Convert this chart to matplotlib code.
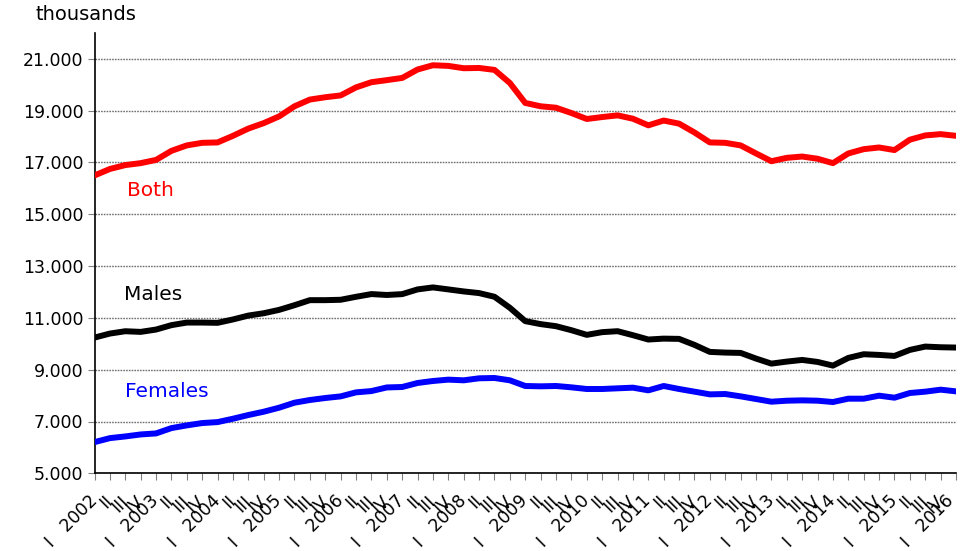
import matplotlib
matplotlib.use("Agg")
import matplotlib.pyplot as plt
from matplotlib.ticker import FuncFormatter
from matplotlib.transforms import ScaledTranslation

plt.rcParams['font.family'] = ['DejaVu Sans']

# quarterly data 2002 Q1 - 2016 Q1 (thousands)
years = list(range(2002, 2017))
quarters = ["I", "II", "III", "IV"]

both = [16500, 16750, 16900, 16975, 17100, 17450, 17660, 17760, 17775, 18030,
        18310, 18520, 18780, 19170, 19430, 19520, 19590, 19900, 20100, 20180,
        20265, 20590, 20755, 20730, 20640, 20650, 20575, 20070, 19300, 19170,
        19115, 18910, 18680, 18755, 18820, 18690, 18435, 18620, 18500, 18160,
        17775, 17760, 17660, 17350, 17050, 17180, 17230, 17145, 16975, 17350,
        17515, 17580, 17480, 17880, 18045, 18095, 18030]
males = [10240, 10395, 10485, 10460, 10550, 10720, 10820, 10820, 10810, 10940,
         11090, 11180, 11310, 11490, 11685, 11685, 11700, 11815, 11920, 11885,
         11918, 12100, 12177, 12100, 12022, 11958, 11816, 11390, 10875, 10760,
         10680, 10525, 10345, 10450, 10487, 10332, 10165, 10200, 10190, 9958,
         9687, 9661, 9648, 9430, 9235, 9313, 9377, 9300, 9158, 9455,
         9597, 9571, 9532, 9764, 9893, 9867, 9855]
females = [6203, 6358, 6423, 6500, 6540, 6745, 6850, 6940, 6977, 7107,
           7250, 7378, 7533, 7726, 7830, 7907, 7970, 8125, 8175, 8315,
           8332, 8487, 8564, 8616, 8590, 8668, 8680, 8590, 8371, 8358,
           8371, 8319, 8255, 8255, 8281, 8306, 8203, 8371, 8255, 8152,
           8048, 8061, 7971, 7868, 7765, 7803, 7816, 7803, 7752, 7881,
           7881, 7997, 7919, 8100, 8152, 8229, 8164]

labels = []
for y in years:
    for q in quarters:
        if q == "I":
            labels.append("I   " + str(y))
        else:
            labels.append(q)
labels = labels[:len(both)]

fig = plt.figure(figsize=(9.6, 5.51), dpi=100)
ax = fig.add_axes([94.5 / 960, 1 - 473.3 / 551, (956 - 94.5) / 960, (473.3 - 33) / 551])

x = list(range(len(both)))
ax.plot(x, both, color="#FF0000", lw=4.3, solid_joinstyle="round", zorder=3)
ax.plot(x, males, color="black", lw=4.3, solid_joinstyle="round", zorder=3)
ax.plot(x, females, color="#0000FF", lw=4.3, solid_joinstyle="round", zorder=3)

ax.set_xlim(0, len(both) - 1)
ax.set_ylim(5000, 22000)
ax.set_yticks(range(5000, 21001, 2000))
ax.yaxis.set_major_formatter(FuncFormatter(lambda v, p: "{:,.0f}".format(v).replace(",", ".")))
ax.yaxis.grid(True, color="#707070", linestyle=(0, (1.2, 0.8)), lw=1)
ax.set_axisbelow(True)

ax.set_xticks(x)
ax.set_xticklabels(labels, rotation=45, ha="right", va="center", rotation_mode="anchor", fontsize=12.5)
ax.tick_params(axis="y", labelsize=12.5, length=5, color="#808080", pad=3)
ax.tick_params(axis="x", length=5, color="#808080", pad=13)

# keep the last label inside the picture
last = ax.get_xticklabels()[-1]
last.set_transform(last.get_transform() + ScaledTranslation(-0.05, 0, fig.dpi_scale_trans))

for s in ["top", "right"]:
    ax.spines[s].set_visible(False)
ax.spines["left"].set_linewidth(1.2)
ax.spines["bottom"].set_linewidth(1.2)

ax.text(2.1, 15900, "Both", color="#FF0000", fontsize=14.5, va="center")
ax.text(1.9, 11900, "Males", color="black", fontsize=14.5, va="center")
ax.text(2.0, 8150, "Females", color="#0000FF", fontsize=14.5, va="center")
fig.text(35 / 960, 1 - 14 / 551, "thousands", fontsize=14, va="center")

fig.savefig("out.png", dpi=100)
